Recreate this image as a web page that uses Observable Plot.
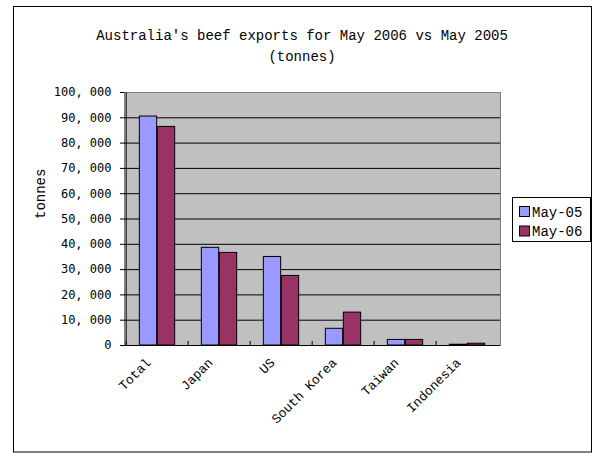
<!DOCTYPE html>
<html>
<head>
<meta charset="utf-8">
<script src="https://cdn.jsdelivr.net/npm/d3@7"></script>
<script src="https://cdn.jsdelivr.net/npm/@observablehq/plot@0.6"></script>
<style>
  html, body { margin: 0; padding: 0; background: white; }
</style>
</head>
<body>
<div id="chart"></div>
<script>
const titleLines = ["Australia's beef exports for May 2006 vs May 2005", "(tonnes)"];
const categories = ["Total", "Japan", "US", "South Korea", "Taiwan", "Indonesia"];
const seriesNames = ["May-05", "May-06"];
const may05 = [90500, 38600, 35000, 6600, 2200, 300];
const may06 = [86400, 36600, 27500, 13000, 2200, 700];
const seriesColors = ["#9999FF", "#993366"];
const yTicks = [0, 10000, 20000, 30000, 40000, 50000, 60000, 70000, 80000, 90000, 100000];
const yLabel = "tonnes";

const rows05 = categories.map((c, i) => ({cat: c, value: may05[i]}));
const rows06 = categories.map((c, i) => ({cat: c, value: may06[i]}));

const W = 601, H = 462;
const mL = 124, mR = 101, mT = 92, mB = 117;
const band = (W - mL - mR) / categories.length;
const half = band / 2;
const barW = 18;
const outer = half - barW;

const monoSerif = "'Liberation Mono', 'DejaVu Sans Mono', monospace";
const monoSans = "'DejaVu Sans Mono', monospace";
const fmt = d => d3.format(",")(d).replace(/,/g, ", ");

const svg = Plot.plot({
  width: W, height: H,
  marginLeft: mL, marginRight: mR, marginTop: mT, marginBottom: mB,
  style: {background: "white", overflow: "visible", color: "black"},
  x: {type: "band", domain: categories, padding: 0, axis: null},
  y: {domain: [0, 100000], axis: null},
  marks: [
    Plot.frame({fill: "#c0c0c0", stroke: "#808080"}),
    Plot.gridY(yTicks.slice(1, -1), {stroke: "black", strokeOpacity: 1}),
    Plot.barY(rows05, {x: "cat", y: "value", fill: seriesColors[0], stroke: "black", insetLeft: outer, insetRight: half}),
    Plot.barY(rows06, {x: "cat", y: "value", fill: seriesColors[1], stroke: "black", insetLeft: half, insetRight: outer}),
    Plot.ruleY([0], {stroke: "black"}),
    Plot.ruleX([categories[0]], {dx: -half, stroke: "black"}),
    Plot.axisY({ticks: yTicks, tickSize: 4, tickPadding: 9, tickFormat: fmt, fontSize: 12, fontFamily: monoSans, label: null, stroke: "black"}),
    Plot.axisX({tickSize: -4, dx: -half, tickFormat: () => "", label: null, stroke: "black"}),
    Plot.text(categories, {x: d => d, frameAnchor: "bottom", dx: -6, dy: 18, rotate: -45, textAnchor: "end", fontSize: 13, fontFamily: monoSerif}),
    Plot.text([yLabel], {frameAnchor: "left", dx: -84, rotate: -90, fontSize: 14, fontFamily: monoSerif}),
    Plot.text([titleLines[0]], {frameAnchor: "top", dx: -10.5, dy: -62, fontSize: 14, fontFamily: monoSerif}),
    Plot.text([titleLines[1]], {frameAnchor: "top", dx: -10.5, dy: -41, fontSize: 14, fontFamily: monoSerif})
  ]
});

const s = d3.select(svg);
// outer chart border
s.append("rect").attr("x", 13.5).attr("y", 6.5).attr("width", 578).attr("height", 445.5)
  .attr("fill", "none").attr("stroke", "black");
// legend
const lg = s.append("g").attr("transform", "translate(512,197)");
lg.append("rect").attr("x", 0.5).attr("y", 0.5).attr("width", 78).attr("height", 44)
  .attr("fill", "white").attr("stroke", "black");
seriesNames.forEach((name, i) => {
  const g = lg.append("g").attr("transform", `translate(7,${9 + i * 19.5})`);
  g.append("rect").attr("x", 0.5).attr("y", 0.5).attr("width", 10).attr("height", 10)
    .attr("fill", seriesColors[i]).attr("stroke", "black");
  g.append("text").attr("x", 13).attr("y", 6).attr("dy", "0.35em")
    .attr("text-anchor", "start")
    .attr("font-family", monoSerif).attr("font-size", 14).attr("fill", "black").text(name);
});

document.getElementById("chart").appendChild(svg);
</script>
</body>
</html>
